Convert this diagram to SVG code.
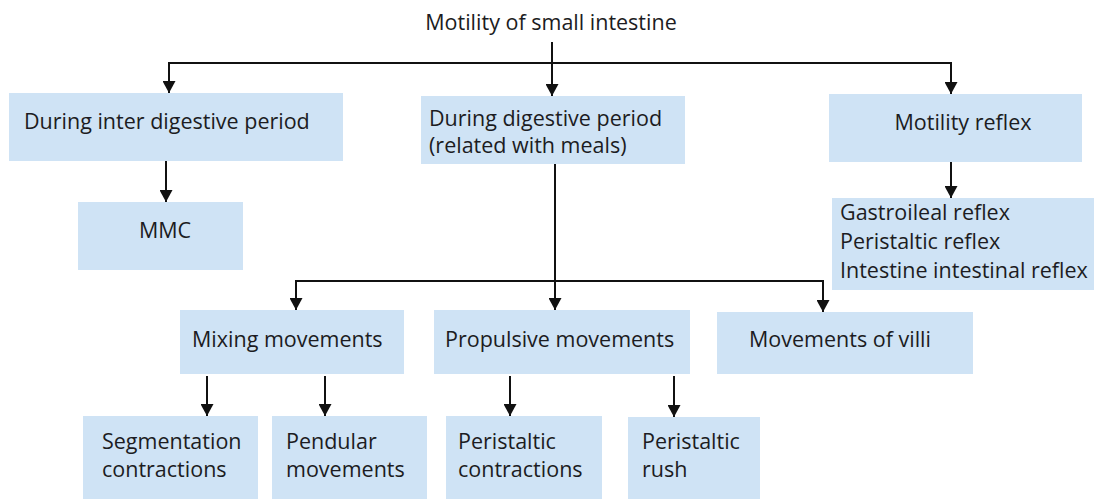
<svg xmlns="http://www.w3.org/2000/svg" width="1094" height="499" viewBox="0 0 1094 499">
  <defs>
    <marker id="arrow" viewBox="0 0 12 13" refX="12" refY="6.5" markerWidth="12" markerHeight="13" markerUnits="userSpaceOnUse" orient="auto">
      <path d="M0,0 L12,6.5 L0,13 Z" fill="#111"/>
    </marker>
    <style>
      .box { fill: #cfe3f5; }
      text { font-family: "Open Sans", "Noto Sans", "DejaVu Sans", sans-serif; font-size: 21.5px; fill: #1c1c22; }
      .mid { text-anchor: middle; }
      .wire { fill: none; stroke: #111; stroke-width: 2; }
      .arr { fill: none; stroke: #111; stroke-width: 2; marker-end: url(#arrow); }
    </style>
  </defs>
  <rect width="1094" height="499" fill="#ffffff"/>

  <!-- connectors -->
  <g id="connectors">
    <!-- root split -->
    <line class="arr" x1="552" y1="42" x2="552" y2="96"/>
    <line class="wire" x1="168" y1="63" x2="952" y2="63"/>
    <line class="arr" x1="169" y1="62" x2="169" y2="93"/>
    <line class="arr" x1="951" y1="62" x2="951" y2="94"/>
    <!-- inter digestive to MMC -->
    <line class="arr" x1="166" y1="161" x2="166" y2="202"/>
    <!-- motility reflex to reflex list -->
    <line class="arr" x1="951" y1="162" x2="951" y2="198"/>
    <!-- digestive period split -->
    <line class="arr" x1="555" y1="164" x2="555" y2="310"/>
    <line class="wire" x1="295" y1="281" x2="824" y2="281"/>
    <line class="arr" x1="296" y1="280" x2="296" y2="310"/>
    <line class="arr" x1="823" y1="280" x2="823" y2="312"/>
    <!-- level four -->
    <line class="arr" x1="207" y1="376" x2="207" y2="416"/>
    <line class="arr" x1="325" y1="376" x2="325" y2="416"/>
    <line class="arr" x1="510" y1="376" x2="510" y2="416"/>
    <line class="arr" x1="674" y1="376" x2="674" y2="417"/>
  </g>

  <!-- root title -->
  <g id="root">
    <text class="mid" x="551" y="30">Motility of small intestine</text>
  </g>

  <g id="inter-digestive">
    <rect class="box" x="9" y="93" width="334" height="68"/>
    <text x="24" y="129">During inter digestive period</text>
  </g>

  <g id="digestive">
    <rect class="box" x="421" y="96" width="264" height="68"/>
    <text x="429" y="126">During digestive period</text>
    <text x="429" y="153">(related with meals)</text>
  </g>

  <g id="motility-reflex">
    <rect class="box" x="829" y="94" width="253" height="68"/>
    <text class="mid" x="963" y="130">Motility reflex</text>
  </g>

  <g id="mmc">
    <rect class="box" x="78" y="202" width="165" height="68"/>
    <text class="mid" x="165" y="238">MMC</text>
  </g>

  <g id="reflexes">
    <rect class="box" x="832" y="198" width="262" height="92"/>
    <text x="840" y="220">Gastroileal reflex</text>
    <text x="840" y="249">Peristaltic reflex</text>
    <text x="840" y="278">Intestine intestinal reflex</text>
  </g>

  <g id="mixing">
    <rect class="box" x="180" y="310" width="224" height="64"/>
    <text x="192" y="347">Mixing movements</text>
  </g>

  <g id="propulsive">
    <rect class="box" x="434" y="310" width="256" height="64"/>
    <text x="445" y="347">Propulsive movements</text>
  </g>

  <g id="villi">
    <rect class="box" x="717" y="312" width="256" height="62"/>
    <text class="mid" x="840" y="347">Movements of villi</text>
  </g>

  <g id="segmentation">
    <rect class="box" x="83" y="416" width="175" height="90"/>
    <text x="102" y="449">Segmentation</text>
    <text x="102" y="477">contractions</text>
  </g>

  <g id="pendular">
    <rect class="box" x="272" y="416" width="155" height="90"/>
    <text x="286" y="449">Pendular</text>
    <text x="286" y="477">movements</text>
  </g>

  <g id="peristaltic-contractions">
    <rect class="box" x="446" y="416" width="156" height="90"/>
    <text x="458" y="449">Peristaltic</text>
    <text x="458" y="477">contractions</text>
  </g>

  <g id="peristaltic-rush">
    <rect class="box" x="628" y="417" width="132" height="90"/>
    <text x="642" y="449">Peristaltic</text>
    <text x="642" y="477">rush</text>
  </g>
</svg>
